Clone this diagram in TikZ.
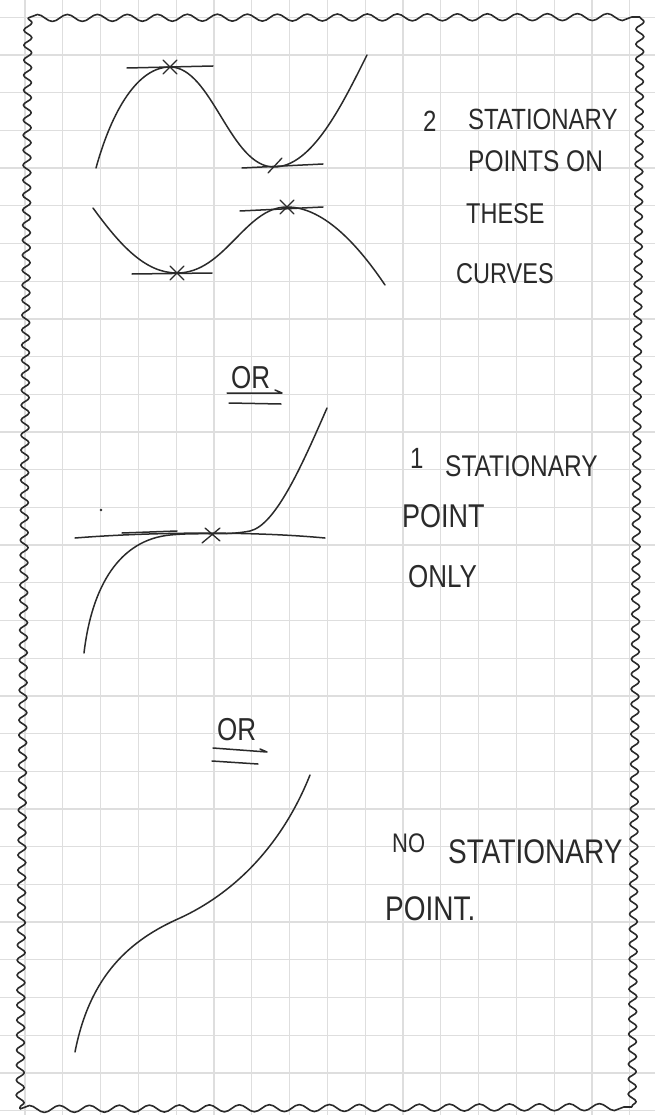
\documentclass[tikz,border=0pt]{standalone}
\usepackage{fontspec}
\usepackage{graphicx}
\setmainfont{Liberation Sans}
\usetikzlibrary{decorations.pathmorphing}
\definecolor{inkc}{HTML}{2A2A2A}
\definecolor{gridc}{HTML}{DEDEDE}
\newcommand\handtxt[1]{\scalebox{1}[1.22]{#1}}
\begin{document}
\begin{tikzpicture}[x=1pt,y=-1pt,
  ink/.style={line width=1.5pt, draw=inkc, line cap=round, line join=round},
  hand/.style={font=\fontsize{24}{24}\selectfont, text=inkc, inner sep=0pt, anchor=base west},
  gridline/.style={draw=gridc, line width=1.3pt},
  borderlr/.style={draw=inkc, line width=1.6pt, line join=round, decorate,
    decoration={snake, segment length=15pt, amplitude=4pt}},
  bordertb/.style={draw=inkc, line width=1.6pt, line join=round, decorate,
    decoration={snake, segment length=30pt, amplitude=3.5pt}},
  xmark/.style={ink, line width=1.3pt}
]
\useasboundingbox (0,0) rectangle (655,1115);
\fill[white] (0,0) rectangle (655,1115);
% grid paper
\foreach \i in {0,...,16} \draw[gridline] ({25+37.8*\i},0) -- ({25+37.8*\i},1115);
\foreach \j in {0,...,29} \draw[gridline] (0,{17.3+37.7*\j}) -- (655,{17.3+37.7*\j});
% wavy border
\coordinate (TL) at (28,18);
\coordinate (TR) at (640,17);
\coordinate (BR) at (632,1107);
\coordinate (BL) at (20,1109);
\draw[borderlr] (TL) -- (BL);
\draw[borderlr] (TR) -- (BR);
\draw[bordertb] (TL) -- (TR);
\draw[bordertb] (BL) -- (BR);

% ---- two stationary points ----
\coordinate (max1) at (170,67);
\coordinate (min1) at (274,167);
\coordinate (min2) at (177,273);
\coordinate (max2) at (287,207);
\draw[ink] (96,168) .. controls (112,110) and (138,67) .. (max1)
  .. controls (212,67) and (230,167) .. (min1)
  .. controls (312,167) and (342,105) .. (367,55);
\draw[ink] (93,208) .. controls (120,245) and (145,273) .. (min2)
  .. controls (225,273) and (245,207) .. (max2)
  .. controls (325,207) and (360,248) .. (385,285);
\draw[ink] (127,68) -- (213,66);
\draw[ink] (242,168) -- (323,164);
\draw[ink] (132,274) -- (212,273);
\draw[ink] (240,211) -- (323,207);
\foreach \p in {max1,min2,max2}
  \draw[xmark] (\p) +(-7,-7) -- +(7,7) (\p) +(-7,7) -- +(7,-7);
\draw[xmark] (min1) +(-6,6) -- +(8,-9);

% ---- OR ----
\node[hand, font=\fontsize{26}{26}\selectfont] (or1) at (231,388) {\handtxt{OR}};
\draw[ink] (227,393) -- (282,393) -- (275,390);
\draw[ink] (229,403) -- (281,404);

% ---- one stationary point ----
\coordinate (infl) at (212,535);
\draw[ink] (75,538) .. controls (150,532) and (250,531) .. (325,538);
\draw[ink] (122,533) -- (177,531);
\draw[ink] (84,653) .. controls (92,585) and (120,540) .. (170,535)
  .. controls (200,532) and (225,536) .. (250,531)
  .. controls (275,525) and (300,470) .. (327,408);
\draw[xmark] (infl) +(-10,8) -- +(8,-7) (infl) +(-7,-7) -- +(8,6);
\fill[inkc] (101,510) circle (1.3pt);

% ---- OR ----
\node[hand, font=\fontsize{26}{26}\selectfont] (or2) at (217,740) {\handtxt{OR}};
\draw[ink] (213,748) -- (267,752) -- (260,749);
\draw[ink] (212,761) -- (258,764);

% ---- no stationary point ----
\draw[ink] (75,1052) .. controls (90,975) and (130,940) .. (180,918)
  .. controls (230,895) and (280,850) .. (310,775);

% ---- labels ----
\node[hand] (t2) at (423,132) {\handtxt{2}};
\node[hand] (t2s) at (468,130) {\handtxt{STATIONARY}};
\node[hand, font=\fontsize{24.5}{24}\selectfont] (t2p) at (468,172) {\handtxt{POINTS ON}};
\node[hand, font=\fontsize{23.5}{24}\selectfont] (t2t) at (466,223) {\handtxt{THESE}};
\node[hand, font=\fontsize{23.5}{24}\selectfont] (t2c) at (456,283) {\handtxt{CURVES}};
\node[hand] (t1) at (410,468) {\handtxt{1}};
\node[hand, font=\fontsize{24.5}{24}\selectfont] (t1s) at (445,476) {\handtxt{STATIONARY}};
\node[hand, font=\fontsize{27}{27}\selectfont] (t1p) at (402,527) {\handtxt{POINT}};
\node[hand, font=\fontsize{26}{26}\selectfont] (t1o) at (408,587) {\handtxt{ONLY}};
\node[hand, font=\fontsize{22}{22}\selectfont] (t0n) at (392,852) {\handtxt{NO}};
\node[hand, font=\fontsize{28}{28}\selectfont] (t0s) at (448,863) {\handtxt{STATIONARY}};
\node[hand, font=\fontsize{28}{28}\selectfont] (t0p) at (385,920) {\handtxt{POINT.}};
\end{tikzpicture}
\end{document}
